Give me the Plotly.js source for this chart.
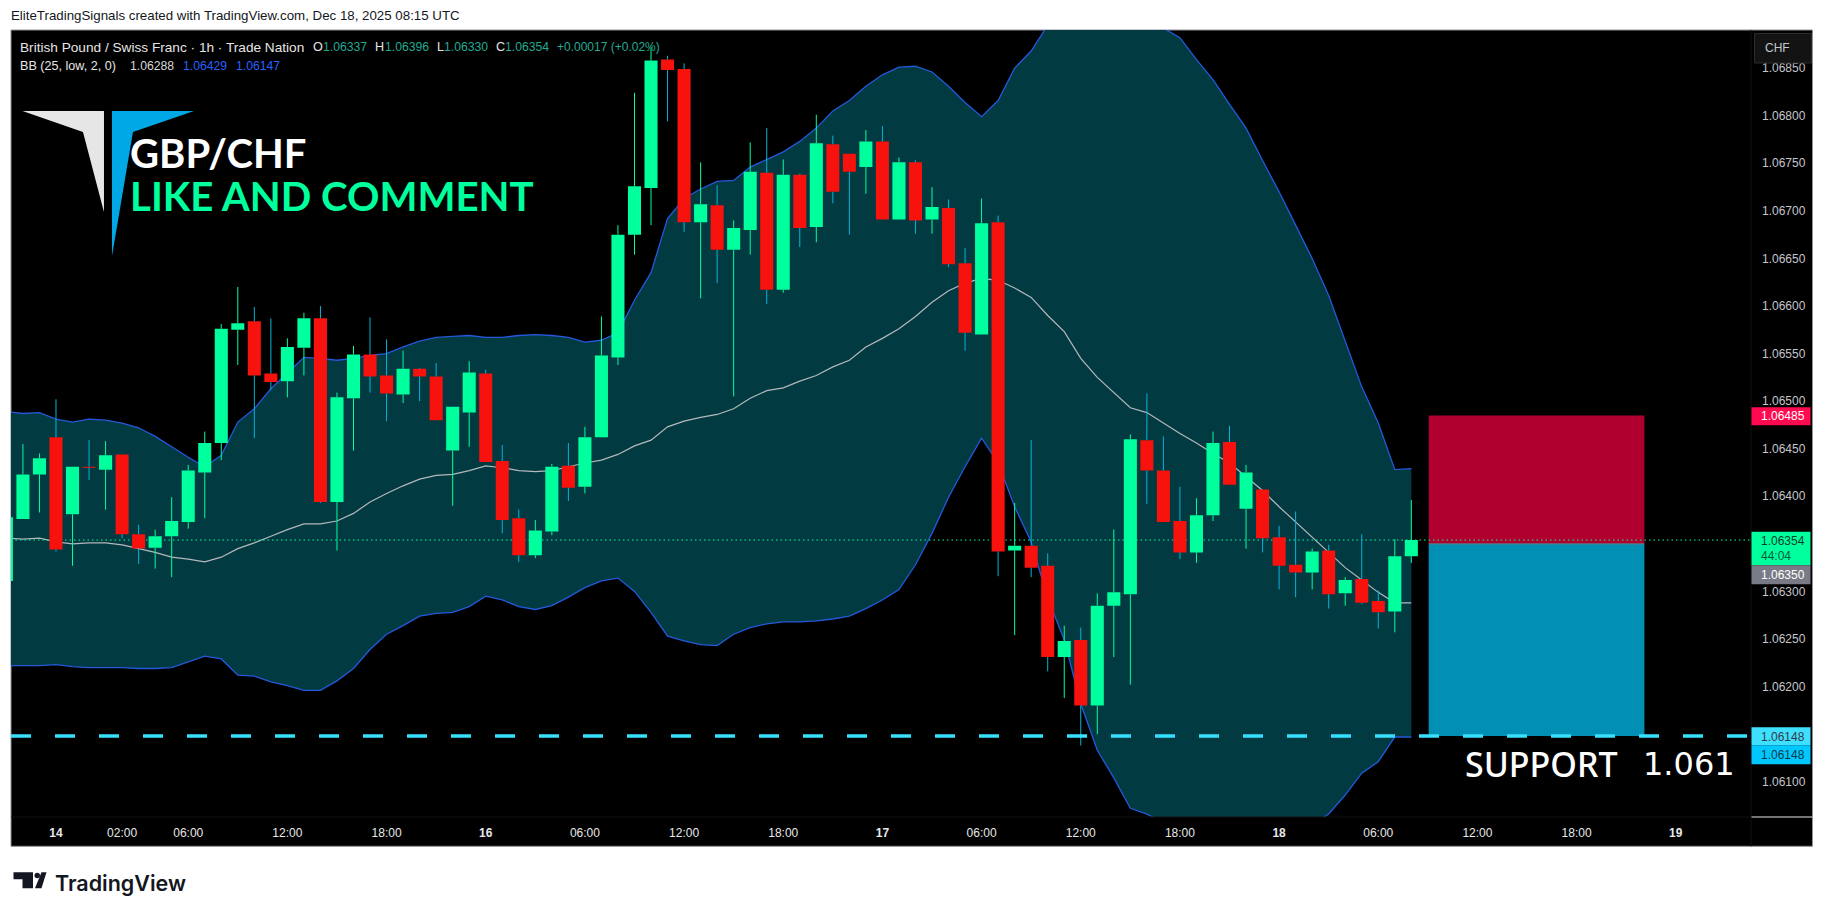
<!DOCTYPE html>
<html><head><meta charset="utf-8">
<script src="https://cdn.plot.ly/plotly-3.0.1.min.js"></script>
<style>html,body{margin:0;padding:0;background:#fff}#chart{width:1825px;height:913px}</style>
</head><body><div id="chart"></div>
<script>
// Hours since the session open on Sunday 14 Dec 22:00
const hours = [-3,-2,-1,0,1,2,3,4,5,6,7,8,9,10,11,12,13,14,15,16,17,18,19,20,21,22,23,24,25,26,27,28,29,30,31,32,33,34,35,36,37,38,39,40,41,42,43,44,45,46,47,48,49,50,51,52,53,54,55,56,57,58,59,60,61,62,63,64,65,66,67,68,69,70,71,72,73,74,75,76,77,78,79,80,81,82];
const opens = [1.06311,1.06376,1.06423,1.06462,1.06381,1.06431,1.06428,1.06444,1.06360,1.06346,1.06358,1.06373,1.06425,1.06456,1.06575,1.06584,1.06529,1.06521,1.06556,1.06587,1.06394,1.06503,1.06549,1.06527,1.06507,1.06534,1.06526,1.06448,1.06488,1.06529,1.06437,1.06377,1.06338,1.06363,1.06432,1.06410,1.06462,1.06546,1.06675,1.06724,1.06859,1.06849,1.06688,1.06706,1.06659,1.06680,1.06740,1.06617,1.06738,1.06683,1.06770,1.06760,1.06746,1.06773,1.06691,1.06751,1.06691,1.06703,1.06645,1.06570,1.06688,1.06343,1.06348,1.06327,1.06231,1.06249,1.06180,1.06285,1.06297,1.06459,1.06427,1.06374,1.06341,1.06380,1.06457,1.06387,1.06407,1.06357,1.06328,1.06320,1.06343,1.06298,1.06313,1.06290,1.06279,1.06337];
const highs = [1.06378,1.06455,1.06445,1.06502,1.06431,1.06459,1.06458,1.06444,1.06370,1.06365,1.06399,1.06433,1.06468,1.06581,1.06620,1.06599,1.06587,1.06566,1.06593,1.06600,1.06509,1.06558,1.06588,1.06565,1.06553,1.06535,1.06540,1.06494,1.06542,1.06533,1.06454,1.06386,1.06375,1.06434,1.06456,1.06473,1.06589,1.06685,1.06824,1.06872,1.06863,1.06855,1.06751,1.06727,1.06690,1.06772,1.06787,1.06754,1.06739,1.06801,1.06779,1.06760,1.06785,1.06789,1.06756,1.06753,1.06725,1.06712,1.06661,1.06713,1.06695,1.06393,1.06459,1.06340,1.06264,1.06262,1.06298,1.06365,1.06465,1.06508,1.06463,1.06410,1.06398,1.06468,1.06474,1.06433,1.06407,1.06369,1.06384,1.06345,1.06349,1.06315,1.06360,1.06301,1.06355,1.06396];
const lows = [1.06311,1.06376,1.06383,1.06342,1.06327,1.06417,1.06386,1.06356,1.06329,1.06324,1.06315,1.06366,1.06377,1.06438,1.06538,1.06461,1.06512,1.06504,1.06527,1.06393,1.06343,1.06448,1.06509,1.06479,1.06498,1.06500,1.06480,1.06390,1.06452,1.06436,1.06361,1.06331,1.06335,1.06359,1.06395,1.06403,1.06462,1.06538,1.06654,1.06685,1.06794,1.06678,1.06608,1.06624,1.06505,1.06654,1.06602,1.06614,1.06662,1.06667,1.06708,1.06675,1.06718,1.06691,1.06691,1.06676,1.06676,1.06641,1.06553,1.06570,1.06316,1.06254,1.06315,1.06216,1.06188,1.06138,1.06150,1.06231,1.06202,1.06392,1.06373,1.06334,1.06330,1.06374,1.06412,1.06345,1.06341,1.06302,1.06294,1.06302,1.06282,1.06285,1.06287,1.06261,1.06257,1.06330];
const closes = [1.06378,1.06423,1.06440,1.06344,1.06431,1.06430,1.06443,1.06360,1.06345,1.06358,1.06374,1.06427,1.06456,1.06576,1.06582,1.06527,1.06520,1.06557,1.06587,1.06394,1.06504,1.06549,1.06526,1.06508,1.06534,1.06526,1.06480,1.06494,1.06530,1.06436,1.06375,1.06338,1.06364,1.06431,1.06409,1.06462,1.06548,1.06675,1.06726,1.06858,1.06848,1.06688,1.06707,1.06659,1.06682,1.06741,1.06617,1.06738,1.06682,1.06771,1.06720,1.06741,1.06773,1.06691,1.06751,1.06690,1.06704,1.06644,1.06572,1.06687,1.06342,1.06348,1.06325,1.06231,1.06248,1.06180,1.06285,1.06299,1.06460,1.06427,1.06373,1.06341,1.06380,1.06456,1.06412,1.06425,1.06356,1.06327,1.06320,1.06342,1.06297,1.06312,1.06288,1.06278,1.06337,1.06354];
const bbUpper = [1.06489,1.06487,1.06488,1.06481,1.06478,1.06481,1.06480,1.06477,1.06472,1.06463,1.06452,1.06441,1.06431,1.06443,1.06478,1.06492,1.06513,1.06530,1.06546,1.06545,1.06543,1.06545,1.06548,1.06550,1.06557,1.06563,1.06567,1.06568,1.06569,1.06567,1.06567,1.06569,1.06570,1.06569,1.06567,1.06562,1.06564,1.06572,1.06606,1.06635,1.06692,1.06713,1.06723,1.06731,1.06732,1.06746,1.06754,1.06762,1.06773,1.06787,1.06805,1.06816,1.06831,1.06843,1.06851,1.06852,1.06846,1.06831,1.06814,1.06799,1.06816,1.06850,1.06868,1.06895,1.06915,1.06930,1.06935,1.06935,1.06930,1.06915,1.06892,1.06882,1.06859,1.06838,1.06812,1.06787,1.06753,1.06720,1.06685,1.06650,1.06611,1.06564,1.06515,1.06477,1.06428,1.06429];
const bbBasis = [1.06356,1.06355,1.06356,1.06352,1.06350,1.06351,1.06351,1.06349,1.06345,1.06341,1.06336,1.06334,1.06331,1.06336,1.06345,1.06351,1.06358,1.06365,1.06371,1.06371,1.06374,1.06382,1.06394,1.06403,1.06411,1.06418,1.06422,1.06423,1.06427,1.06432,1.06430,1.06427,1.06426,1.06427,1.06431,1.06435,1.06438,1.06444,1.06453,1.06459,1.06473,1.06479,1.06483,1.06486,1.06492,1.06503,1.06511,1.06514,1.06521,1.06527,1.06536,1.06543,1.06557,1.06566,1.06576,1.06589,1.06604,1.06616,1.06624,1.06629,1.06627,1.06619,1.06609,1.06590,1.06573,1.06545,1.06525,1.06509,1.06493,1.06488,1.06477,1.06466,1.06456,1.06445,1.06435,1.06420,1.06406,1.06389,1.06373,1.06357,1.06341,1.06325,1.06312,1.06299,1.06288,1.06288];
const bbLower = [1.06222,1.06222,1.06222,1.06223,1.06221,1.06220,1.06220,1.06220,1.06219,1.06219,1.06220,1.06226,1.06232,1.06229,1.06212,1.06211,1.06205,1.06201,1.06196,1.06196,1.06206,1.06219,1.06239,1.06255,1.06264,1.06274,1.06277,1.06278,1.06284,1.06295,1.06291,1.06284,1.06281,1.06285,1.06294,1.06304,1.06311,1.06314,1.06300,1.06278,1.06253,1.06248,1.06244,1.06243,1.06255,1.06262,1.06266,1.06268,1.06268,1.06269,1.06271,1.06274,1.06282,1.06291,1.06302,1.06328,1.06361,1.06399,1.06431,1.06461,1.06435,1.06389,1.06352,1.06293,1.06249,1.06182,1.06133,1.06104,1.06072,1.06066,1.06057,1.06051,1.06047,1.06044,1.06042,1.06040,1.06040,1.06043,1.06047,1.06055,1.06066,1.06086,1.06109,1.06121,1.06147,1.06147];
const timeTickHours  = [0,4,8,14,20,26,32,38,44,50,56,62,68,74,80,86,92,98];
const timeTickLabels = ['<b>14</b>','02:00','06:00','12:00','18:00','<b>16</b>','06:00','12:00','18:00','<b>17</b>','06:00','12:00','18:00','<b>18</b>','06:00','12:00','18:00','<b>19</b>'];
const priceTicks = [1.061,1.0615,1.062,1.0625,1.063,1.0635,1.064,1.0645,1.065,1.0655,1.066,1.0665,1.067,1.0675,1.068,1.0685];
const supportPrice = 1.06148, stopPrice = 1.06485, entryPrice = 1.0635, lastPrice = 1.06354;
const tradeStart = 83.05, tradeEnd = 96.1;

const C = {green:'#00ff9d', red:'#f7120d', downWick:'#07b4d8', band:'#023a42', bbLine:'#2459dc', basis:'#b4b8bb',
  support:'#38e0ff', stopFill:'#b00030', targetFill:'#028fb4', axisText:'#c4c6cc', teal:'#22ab94', blue:'#2962ff'};
const FONT = 'Liberation Sans, Arial, sans-serif';
const xRange = [-2.722, 102.55], yRange = [1.060629, 1.068901];
const L = 11, R = 1751.5, T = 30, B = 816.7, W = 1825, H = 913;
const px = v => (v - L) / (R - L), py = v => (B - v) / (B - T);

// wick segments, split so they never paint over the bodies
function wicks(up) {
  const x = [], y = [];
  hours.forEach((h, i) => {
    if ((closes[i] >= opens[i]) !== up) return;
    const top = Math.max(opens[i], closes[i]), bot = Math.min(opens[i], closes[i]);
    if (highs[i] > top) { x.push(h, h, null); y.push(highs[i], top, null); }
    if (lows[i] < bot)  { x.push(h, h, null); y.push(bot, lows[i], null); }
  });
  return {x, y};
}
const upW = wicks(true), dnW = wicks(false);

const traces = [
  {type:'scatter', mode:'lines', x:hours, y:bbLower, line:{color:C.bbLine, width:1.3}, xaxis:'x', yaxis:'y', hoverinfo:'skip'},
  {type:'scatter', mode:'lines', x:hours, y:bbUpper, line:{color:C.bbLine, width:1.3}, fill:'tonexty', fillcolor:C.band, xaxis:'x', yaxis:'y', hoverinfo:'skip'},
  {type:'scatter', mode:'lines', x:hours, y:bbBasis, line:{color:C.basis, width:1.2}, xaxis:'x', yaxis:'y', hoverinfo:'skip'},
  {type:'scatter', mode:'lines', x:xRange, y:[lastPrice,lastPrice], line:{color:C.green, width:1, dash:'1.5px,3px'}, xaxis:'x', yaxis:'y', hoverinfo:'skip'},
  {type:'candlestick', x:hours, open:opens, high:highs, low:lows, close:closes, xaxis:'x2', yaxis:'y2',
    increasing:{line:{color:C.green, width:0}, fillcolor:C.green},
    decreasing:{line:{color:C.red, width:0}, fillcolor:C.red}, hoverinfo:'skip'},
  {type:'scatter', mode:'lines', x:upW.x, y:upW.y, line:{color:C.green, width:1}, xaxis:'x2', yaxis:'y2', hoverinfo:'skip'},
  {type:'scatter', mode:'lines', x:dnW.x, y:dnW.y, line:{color:C.downWick, width:1}, xaxis:'x2', yaxis:'y2', hoverinfo:'skip'},
  {type:'scatter', mode:'lines', x:xRange, y:[supportPrice,supportPrice], line:{color:C.support, width:3.5, dash:'20px,24px'}, xaxis:'x2', yaxis:'y2', hoverinfo:'skip'}
];

function pxRect(x0,y0,x1,y1,fill,line,layer){
  return {type:'rect', xref:'paper', yref:'paper', x0:px(x0), x1:px(x1), y0:py(y1), y1:py(y0),
    fillcolor:fill, line:line||{width:0}, layer:layer||'above'};
}
function pxPath(pts,fill){
  return {type:'path', xref:'paper', yref:'paper', fillcolor:fill, line:{width:0}, layer:'above',
    path:'M '+pts.map(p=>px(p[0])+' '+py(p[1])).join(' L ')+' Z'};
}
const shapes = [
  pxRect(11,30,1813,846,'#000',{color:'#8f9299',width:1},'below'),
  {type:'rect', xref:'x', yref:'y', x0:tradeStart, x1:tradeEnd, y0:entryPrice, y1:stopPrice, fillcolor:C.stopFill, line:{width:0}, layer:'below'},
  {type:'rect', xref:'x', yref:'y', x0:tradeStart, x1:tradeEnd, y0:supportPrice, y1:entryPrice, fillcolor:C.targetFill, line:{width:0}, layer:'below'},
  {type:'line', xref:'x', yref:'y', x0:tradeStart, x1:tradeEnd, y0:entryPrice, y1:entryPrice, line:{color:'#787b86', width:1}, layer:'below'},
  {type:'line', xref:'paper', yref:'paper', x0:px(R), x1:px(1813), y0:0, y1:0, line:{color:'#e8e8e8', width:1}, layer:'above'},
  {type:'line', xref:'paper', yref:'paper', x0:px(R), x1:px(R), y0:py(30), y1:py(846), line:{color:'#121212', width:1}, layer:'above'},
  {type:'line', xref:'paper', yref:'paper', x0:px(11), x1:px(R), y0:0, y1:0, line:{color:'#121212', width:1}, layer:'above'},
  // price flags
  pxRect(1752,407,1811,425,'#ff0a50'),
  pxRect(1752,531.5,1811,565,C.green),
  pxRect(1752,565,1811,584,'#787b86'),
  pxRect(1752,727,1811,745,'#3fe0ff'),
  pxRect(1752,745,1811,764,'#00c8ff'),
  // currency button
  pxRect(1755,33.5,1812,63,'#131313',{color:'#2c2c2c',width:1}),
  // brand mark
  pxPath([[22.5,111],[104,111],[104,212],[83,132]],'#e6e6e6'),
  pxPath([[112,111],[194,111],[133,132],[112,256]],'#00a8e6'),
  // footer logo
  pxPath([[13.5,872],[33,872],[33,888],[22.5,888],[22.5,879],[13.5,879]],'#131722'),
  pxPath([[35,888],[41.5,888],[46.5,872],[41.5,872]],'#131722'),
  {type:'circle', xref:'paper', yref:'paper', x0:px(34.5), x1:px(40), y0:py(878), y1:py(872.5), fillcolor:'#131722', line:{width:0}, layer:'above'}
];

function note(x,y,text,color,size,extra){
  return Object.assign({xref:'paper', yref:'paper', x:px(x), y:py(y), text:text, showarrow:false, xanchor:'left', yanchor:'middle',
    font:{family:FONT, size:size||12, color:color||'#fff'}, borderpad:0, borderwidth:0}, extra||{});
}
const annotations = [
  note(11,16,'EliteTradingSignals created with TradingView.com, Dec 18, 2025 08:15 UTC','#131722',13.3),
  note(20,47,'British Pound / Swiss Franc · 1h · Trade Nation','#e6e6e6',13.65),
  note(313.5,47,'O','#e6e6e6',12.6), note(323,47,'1.06337',C.teal,12.2),
  note(375,47,'H','#e6e6e6',12.6), note(385,47,'1.06396',C.teal,12.2),
  note(437,47,'L','#e6e6e6',12.6), note(444,47,'1.06330',C.teal,12.2),
  note(496,47,'C','#e6e6e6',12.6), note(505.5,47,'1.06354',C.teal,12.2),
  note(557.5,47,'+0.00017 (+0.02%)',C.teal,12),
  note(20,65.5,'BB (25, low, 2, 0)','#e6e6e6',12.6),
  note(130,65.5,'1.06288','#d8d8d8',12.2), note(183.5,65.5,'1.06429',C.blue,12.2), note(236,65.5,'1.06147',C.blue,12.2),
  note(130,153,'GBP/CHF','#ffffff',40,{font:{family:'Lato, sans-serif',size:40,color:'#ffffff',weight:700}}),
  note(130,195,'LIKE AND COMMENT',C.green,40,{font:{family:'Lato, sans-serif',size:40.2,color:C.green,weight:700}}),
  note(1465,764,'SUPPORT','#ffffff',34,{font:{family:'Noto Sans, sans-serif',size:34,color:'#ffffff',weight:500}}),
  note(1643,764,'1.061','#ffffff',32,{font:{family:'DejaVu Sans, sans-serif',size:32,color:'#ffffff'}}),
  note(1766,48,'CHF','#c4c6cc',12),
  note(1762,416,'1.06485','#ffffff',12),
  note(1762,541,'1.06354','#0a3d2c',12),
  note(1762,556,'44:04','#0a5c40',12),
  note(1762,574.5,'1.06350','#ffffff',12),
  note(1762,736.5,'1.06148','#333c44',12),
  note(1762,754.5,'1.06148','#0e3a4a',12),
  note(55,883,'TradingView','#131722',21.5,{font:{family:'Inter, sans-serif',size:21.5,color:'#131722',weight:600}})
];

const layout = {
  width:W, height:H, showlegend:false, hovermode:false, dragmode:false,
  paper_bgcolor:'#ffffff', plot_bgcolor:'rgba(0,0,0,0)',
  margin:{l:L, r:W-R, t:T, b:H-B, pad:0}, boxgap:0.21, boxgroupgap:0,
  xaxis:{range:xRange, tickmode:'array', tickvals:timeTickHours, ticktext:timeTickLabels, showgrid:false, zeroline:false,
    showline:false, ticks:'', ticklabelstandoff:7, tickfont:{family:FONT,size:12,color:'#e8e8e8'}, fixedrange:true, tickangle:0},
  yaxis:{range:yRange, side:'right', tickmode:'array', tickvals:priceTicks, ticktext:priceTicks.map(v=>v.toFixed(5)), showgrid:false, zeroline:false,
    showline:false, ticks:'', ticklabelstandoff:10, tickfont:{family:FONT,size:12,color:C.axisText}, fixedrange:true},
  xaxis2:{range:xRange, overlaying:'x', anchor:'y2', visible:false, fixedrange:true, rangeslider:{visible:false}},
  yaxis2:{range:yRange, overlaying:'y', anchor:'x2', side:'right', visible:false, fixedrange:true},
  shapes:shapes, annotations:annotations
};
Plotly.newPlot('chart', traces, layout, {displayModeBar:false, staticPlot:true});
</script></body></html>
